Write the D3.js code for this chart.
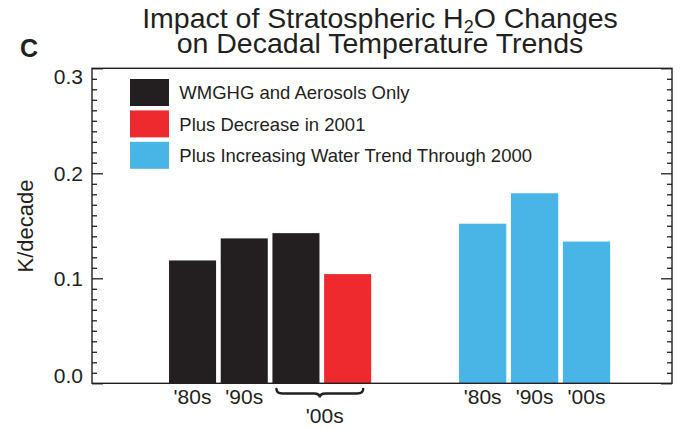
<!DOCTYPE html>
<html>
<head>
<meta charset="utf-8">
<script src="https://cdn.jsdelivr.net/npm/d3@7/dist/d3.min.js"></script>
<style>
  html, body { margin: 0; padding: 0; background: #fff; }
  svg { display: block; font-family: "Liberation Sans", Arial, Helvetica, sans-serif; }
</style>
</head>
<body>
<svg id="chart" width="686" height="428"></svg>
<script>
// Decadal temperature trends (K/decade)
const decades = ["'80s", "'90s", "'00s"];
const wmghgOnly = [0.117, 0.138, 0.143];        // WMGHG and aerosols only
const decrease2001 = [0.104];                    // plus decrease in 2001 ('00s)
const increasingWater = [0.152, 0.181, 0.135];  // plus increasing water trend through 2000
const yMajorTicks = [0.0, 0.1, 0.2, 0.3];
const legendLabels = ["WMGHG and Aerosols Only", "Plus Decrease in 2001", "Plus Increasing Water Trend Through 2000"];
const seriesColors = ["#231f20", "#ee2a2e", "#49b5e7"];

const ink = "#231f20";
const svg = d3.select("#chart");

const plot = { left: 92, right: 672, top: 68.3, bottom: 383.3 };

const y = d3.scaleLinear().domain([0, 0.3]).range([plot.bottom, plot.top]);

// Two bar clusters, each laid out on its own band scale
const leftSlots = ["'80s", "'90s", "'00s", "'00s dec"];
const xLeft = d3.scaleBand().domain(leftSlots).range([166.7, 373.5]).paddingInner(0.09).paddingOuter(0.045);
const xRight = d3.scaleBand().domain(decades).range([456.7, 612.5]).paddingInner(0.09).paddingOuter(0.045);

// Title
const title = svg.append("text")
  .attr("x", 380).attr("y", 27.7)
  .attr("text-anchor", "middle")
  .attr("font-size", 28.5)
  .attr("fill", ink);
title.append("tspan").text("Impact of Stratospheric H");
title.append("tspan").attr("font-size", 18).attr("dy", 5).text("2");
title.append("tspan").attr("dy", -5).text("O Changes");

svg.append("text")
  .attr("x", 380).attr("y", 53.3)
  .attr("text-anchor", "middle")
  .attr("font-size", 28.5)
  .attr("fill", ink)
  .text("on Decadal Temperature Trends");

// Panel letter
svg.append("text")
  .attr("x", 20).attr("y", 56.7)
  .attr("font-size", 25).attr("font-weight", "bold")
  .attr("fill", ink)
  .text("c".toUpperCase());

// Bars
const barsG = svg.append("g");
const leftData = decades.map((d, i) => ({ slot: d, v: wmghgOnly[i], c: seriesColors[0] }))
  .concat([{ slot: "'00s dec", v: decrease2001[0], c: seriesColors[1] }]);
barsG.selectAll("rect.left").data(leftData).join("rect")
  .attr("class", "left")
  .attr("x", d => xLeft(d.slot))
  .attr("width", xLeft.bandwidth())
  .attr("y", d => y(d.v))
  .attr("height", d => y(0) - y(d.v))
  .attr("fill", d => d.c);

const rightData = decades.map((d, i) => ({ slot: d, v: increasingWater[i], c: seriesColors[2] }));
barsG.selectAll("rect.right").data(rightData).join("rect")
  .attr("class", "right")
  .attr("x", d => xRight(d.slot))
  .attr("width", xRight.bandwidth())
  .attr("y", d => y(d.v))
  .attr("height", d => y(0) - y(d.v))
  .attr("fill", d => d.c);

// Frame
svg.append("rect")
  .attr("x", plot.left).attr("y", plot.top)
  .attr("width", plot.right - plot.left).attr("height", plot.bottom - plot.top)
  .attr("fill", "none").attr("stroke", ink).attr("stroke-width", 1.4);

// Y axes: minor ticks every 0.01, major every 0.1, both pointing inward
const minorTicks = d3.range(0, 31).map(i => i / 100).filter(v => Math.round(v * 100) % 10 !== 0);

function styleAxis(g) {
  g.select(".domain").remove();
  g.selectAll(".tick line").attr("stroke", ink).attr("stroke-width", 1.3);
}

svg.append("g").attr("transform", `translate(${plot.left},0)`)
  .call(d3.axisLeft(y).tickValues(minorTicks).tickSize(-5).tickFormat(""))
  .call(styleAxis);
svg.append("g").attr("transform", `translate(${plot.right},0)`)
  .call(d3.axisRight(y).tickValues(minorTicks).tickSize(-5).tickFormat(""))
  .call(styleAxis);
svg.append("g").attr("transform", `translate(${plot.right},0)`)
  .call(d3.axisRight(y).tickValues(yMajorTicks).tickSize(-11).tickFormat(""))
  .call(styleAxis);

const yAxis = svg.append("g").attr("transform", `translate(${plot.left},0)`)
  .call(d3.axisLeft(y).tickValues(yMajorTicks).tickSize(-11).tickPadding(9).tickFormat(d3.format(".1f")))
  .call(styleAxis);
yAxis.selectAll(".tick text")
  .attr("font-family", "'Liberation Sans', Arial, sans-serif")
  .attr("font-size", 21)
  .attr("fill", ink)
  .attr("dy", d => d === 0.3 ? "0.7em" : d === 0 ? "-0.05em" : "0.34em");

// Y axis title
svg.append("text")
  .attr("transform", "translate(33,226) rotate(-90)")
  .attr("text-anchor", "middle")
  .attr("font-size", 22)
  .attr("fill", ink)
  .text("K/decade");

// Decade labels under each cluster
const labelY = 404;
svg.selectAll("text.lblL").data(decades.slice(0, 2)).join("text")
  .attr("class", "lblL")
  .attr("x", d => xLeft(d) + xLeft.bandwidth() / 2)
  .attr("y", labelY)
  .attr("text-anchor", "middle")
  .attr("font-size", 21)
  .attr("fill", ink)
  .text(d => d);

svg.selectAll("text.lblR").data(decades).join("text")
  .attr("class", "lblR")
  .attr("x", d => xRight(d) + xRight.bandwidth() / 2)
  .attr("y", labelY)
  .attr("text-anchor", "middle")
  .attr("font-size", 21)
  .attr("fill", ink)
  .text(d => d);

// Brace grouping the two '00s bars on the left
const bx1 = xLeft("'00s") + 4;
const bx2 = xLeft("'00s dec") + xLeft.bandwidth() - 8;
const bm = (bx1 + bx2) / 2;
const by = 393.5;
const bracePath = d3.path();
bracePath.moveTo(bx1, by - 4.5);
bracePath.quadraticCurveTo(bx1, by, bx1 + 6, by);
bracePath.lineTo(bm - 6, by);
bracePath.quadraticCurveTo(bm, by, bm, by + 4);
bracePath.quadraticCurveTo(bm, by, bm + 6, by);
bracePath.lineTo(bx2 - 6, by);
bracePath.quadraticCurveTo(bx2, by, bx2, by - 4.5);
svg.append("path")
  .attr("d", bracePath.toString())
  .attr("fill", "none")
  .attr("stroke", ink)
  .attr("stroke-width", 2.4)
  .attr("stroke-linecap", "round");

svg.append("text")
  .attr("x", bm + 5).attr("y", 423)
  .attr("text-anchor", "middle")
  .attr("font-size", 21)
  .attr("fill", ink)
  .text(decades[2]);

// Legend
const legend = svg.append("g").attr("transform", "translate(130,79)");
const rows = legend.selectAll("g").data(legendLabels).join("g")
  .attr("transform", (d, i) => `translate(0,${i * 31.4})`);
rows.append("rect")
  .attr("width", 39).attr("height", 27)
  .attr("fill", (d, i) => seriesColors[i]);
rows.append("text")
  .attr("x", 49.3).attr("y", 20.3)
  .attr("font-size", 18.5)
  .attr("fill", ink)
  .text(d => d);
</script>
</body>
</html>
